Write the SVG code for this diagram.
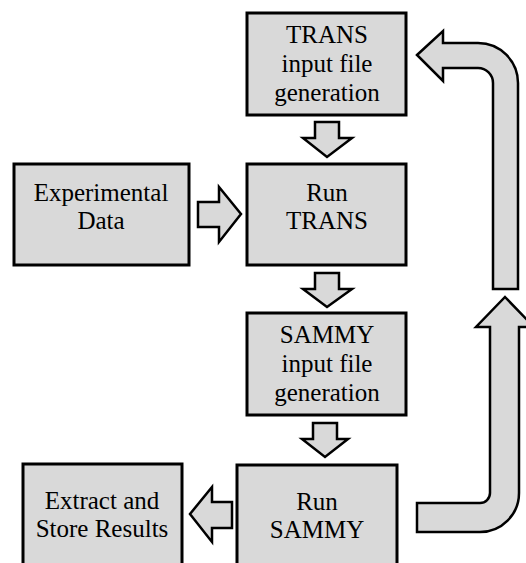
<svg xmlns="http://www.w3.org/2000/svg" width="526" height="563" viewBox="0 0 526 563">
<style>
.box{fill:#d9d9d9;stroke:#000;stroke-width:3}
.arr{fill:#d9d9d9;stroke:#000;stroke-width:2.5;stroke-linejoin:miter}
text{font-family:"Liberation Serif","Times New Roman",serif;font-size:25px;fill:#000;text-anchor:middle}
</style>
<rect width="526" height="563" fill="#fff"/>
<g id="connectors">
<path class="arr" d="M417,55 L443,31 L443,43 L478,43 A40,40 0 0 1 518,83 L518,289 L493,289 L493,83 A15,15 0 0 0 478,68 L443,68 L443,81 Z"/>
<path class="arr" d="M505,297 L534,327 L519,327 L519,493 A39,39 0 0 1 480,532 L417,532 L417,503 L480,503 A10,10 0 0 0 490,493 L490,327 L476,327 Z"/>
<path class="arr" d="M315,122 L339,122 L339,138 L352,138 L327,157 L303,138 L315,138 Z"/>
<path class="arr" d="M315,273 L339,273 L339,289 L352,289 L327,307 L303,289 L315,289 Z"/>
<path class="arr" d="M313,423 L337,423 L337,439 L348,439 L325,457 L302,439 L313,439 Z"/>
<path class="arr" d="M198,202 L219,202 L219,187 L241,214 L219,242 L219,227 L198,227 Z"/>
<path class="arr" d="M232,502 L212,502 L212,487 L190,514 L212,542 L212,528 L232,528 Z"/>
</g>
<g id="trans-input">
<rect class="box" x="247" y="13" width="159" height="102"/>
<text x="327" y="43">TRANS</text>
<text x="327" y="72">input file</text>
<text x="327" y="101">generation</text>
</g>
<g id="run-trans">
<rect class="box" x="247" y="164" width="159" height="101"/>
<text x="327" y="201">Run</text>
<text x="327" y="229">TRANS</text>
</g>
<g id="experimental-data">
<rect class="box" x="14" y="164" width="175" height="101"/>
<text x="101" y="201">Experimental</text>
<text x="101" y="229">Data</text>
</g>
<g id="sammy-input">
<rect class="box" x="247" y="313" width="159" height="102"/>
<text x="327" y="343">SAMMY</text>
<text x="327" y="372">input file</text>
<text x="327" y="401">generation</text>
</g>
<g id="run-sammy">
<rect class="box" x="237" y="465" width="160" height="110"/>
<text x="317" y="510">Run</text>
<text x="317" y="538">SAMMY</text>
</g>
<g id="extract-results">
<rect class="box" x="23" y="464" width="159" height="110"/>
<text x="102" y="509">Extract and</text>
<text x="102" y="537">Store Results</text>
</g>
</svg>
